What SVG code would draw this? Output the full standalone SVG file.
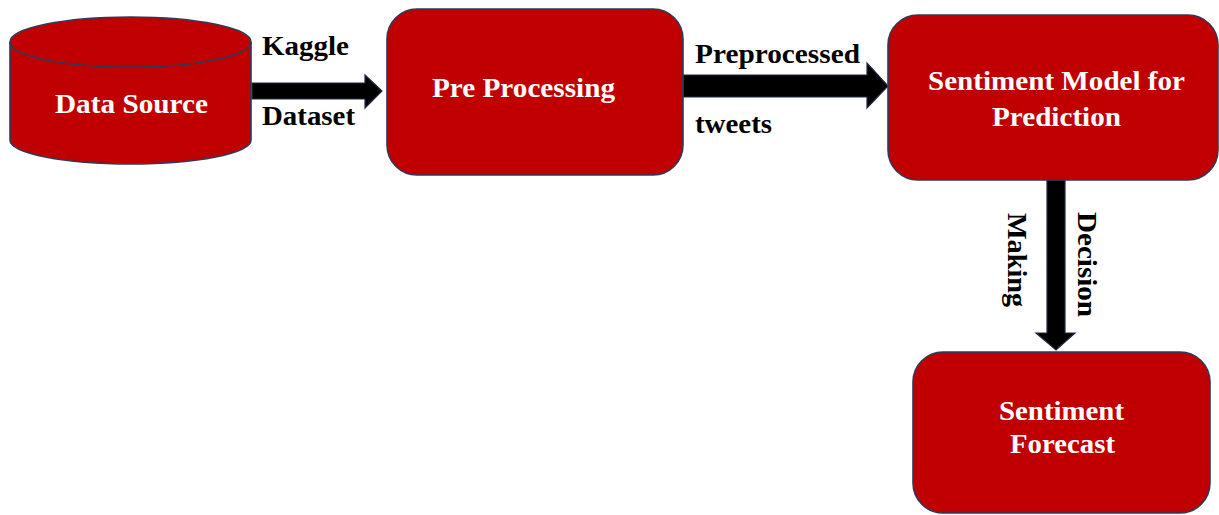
<svg xmlns="http://www.w3.org/2000/svg" width="1219" height="515" viewBox="0 0 1219 515">
<style>
.node{fill:#C00000;stroke:#2F3A56;stroke-width:1.6}
.arrow{fill:#000000;stroke:#1F2A44;stroke-width:1.2}
.t{font-family:"Liberation Serif","Times New Roman",serif;font-weight:bold;font-size:27.5px}
.w{fill:#ffffff}
.k{fill:#000000}
</style>
<rect width="1219" height="515" fill="#ffffff"/>
<g id="connectors">
<polygon class="arrow" points="252,83 365,83 365,75 382,91 365,108 365,99 252,99"/>
<polygon class="arrow" points="683,75 867,75 867,63 888,86 867,108 867,97 683,97"/>
<polygon class="arrow" points="1047,180 1065,180 1065,333 1075,333 1056,350 1036,333 1047,333"/>
<text class="t k" x="262" y="55" textLength="87" lengthAdjust="spacingAndGlyphs">Kaggle</text>
<text class="t k" x="262" y="125" textLength="93" lengthAdjust="spacingAndGlyphs">Dataset</text>
<text class="t k" x="695" y="63" textLength="165" lengthAdjust="spacingAndGlyphs">Preprocessed</text>
<text class="t k" x="695" y="133" textLength="77" lengthAdjust="spacingAndGlyphs">tweets</text>
<text class="t k" transform="translate(1008,213) rotate(90)" x="0" y="0" textLength="94" lengthAdjust="spacingAndGlyphs">Making</text>
<text class="t k" transform="translate(1078,212) rotate(90)" x="0" y="0" textLength="105" lengthAdjust="spacingAndGlyphs">Decision</text>
</g>
<g id="data-source">
<path class="node" d="M10,42 L10,140 A120.5,24 0 0 0 251,140 L251,42"/>
<ellipse class="node" cx="130.5" cy="42" rx="120.5" ry="25"/>
<text class="t w" x="55" y="113" textLength="153" lengthAdjust="spacingAndGlyphs">Data Source</text>
</g>
<g id="pre-processing">
<rect class="node" x="387" y="9" width="296" height="166" rx="30" ry="30"/>
<text class="t w" x="432" y="97" textLength="183" lengthAdjust="spacingAndGlyphs">Pre Processing</text>
</g>
<g id="sentiment-model">
<rect class="node" x="888" y="15" width="330" height="165" rx="30" ry="30"/>
<text class="t w" x="928" y="90" textLength="257" lengthAdjust="spacingAndGlyphs">Sentiment Model for</text>
<text class="t w" x="992" y="126" textLength="129" lengthAdjust="spacingAndGlyphs">Prediction</text>
</g>
<g id="sentiment-forecast">
<rect class="node" x="913" y="352" width="297" height="161" rx="30" ry="30"/>
<text class="t w" x="999" y="420" textLength="125" lengthAdjust="spacingAndGlyphs">Sentiment</text>
<text class="t w" x="1010" y="453" textLength="105" lengthAdjust="spacingAndGlyphs">Forecast</text>
</g>
</svg>
